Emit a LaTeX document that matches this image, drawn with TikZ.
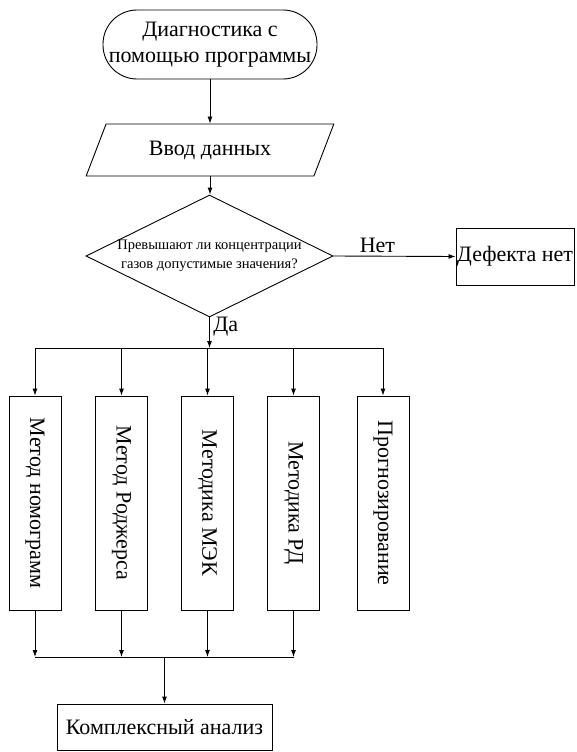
\documentclass[tikz,border=0pt]{standalone}
\usepackage{fontspec}
\setmainfont{Liberation Serif}
\usetikzlibrary{arrows.meta,shapes.geometric}

\begin{document}
\begin{tikzpicture}[x=1pt, y=-1pt, >={Latex[length=7pt,width=5pt]},
                    every node/.style={font=\fontsize{22}{26}\selectfont},
                    line width=0.9pt,
                    terminal/.style={draw, rounded corners=34pt, align=center,
                                     minimum width=214pt, minimum height=69pt, inner sep=0pt},
                    inputbox/.style={draw, trapezium, trapezium left angle=64,
                                     trapezium right angle=116, trapezium stretches=true,
                                     minimum width=248pt, minimum height=52pt},
                    decision/.style={draw, diamond, inner sep=0pt,
                                     minimum width=247pt, minimum height=122pt,
                                     label={[align=center, font=\fontsize{14.5}{19}\selectfont]center:#1}},
                    block/.style={draw, inner sep=1pt, minimum width=#1},
                    method/.style={draw, minimum width=52pt, minimum height=214pt,
                                   label={[rotate=-90]center:#1}}]

  \useasboundingbox (0,0) rectangle (576,752);

  %% начало и ввод
  \node[terminal] (start) at (210,44.5) {Диагностика с\\помощью программы};
  \node[inputbox] (input) at (210,150) {Ввод данных};

  %% проверка концентраций
  \node[decision={Превышают ли концентрации\\газов допустимые значения?}] (check) at (209.5,256) {};
  \node[block=118pt, minimum height=57pt] (nodefect) at (515,256.5) {Дефекта нет};

  \draw[->] (start.south) -- (start.south |- input.north);
  \draw[->] (input.south) -- (input.south |- check.north);
  \draw[->] (check.east) -- node[above, pos=0.36] {Нет} (nodefect.west);

  %% методы диагностики
  \node[method=Метод номограмм]   (m1) at (35,503)    {};
  \node[method=Метод Роджерса]    (m2) at (121.5,503) {};
  \node[method=Методика МЭК]      (m3) at (207.5,503) {};
  \node[method=Методика РД]       (m4) at (293.5,503) {};
  \node[method=Прогнозирование]   (m5) at (383,503)   {};

  \coordinate (split) at (check.south |- 0,348);
  \draw[->] (check.south) -- node[right, pos=0.3] {Да} (split);
  \draw (m1.north |- split) -- (m5.north |- split);
  \foreach \m in {m1,m2,m3,m4,m5}
    \draw[->] (\m.north |- split) -- (\m.north);

  %% сведение результатов
  \node[block=215pt, minimum height=46pt] (final) at (164.5,727) {Комплексный анализ};
  \coordinate (join) at (final.north |- 0,657);
  \foreach \m in {m1,m2,m3,m4}
    \draw[->] (\m.south) -- (\m.south |- join);
  \draw (m1.south |- join) -- (m4.south |- join);
  \draw[->] (join) -- (final.north);

\end{tikzpicture}
\end{document}
